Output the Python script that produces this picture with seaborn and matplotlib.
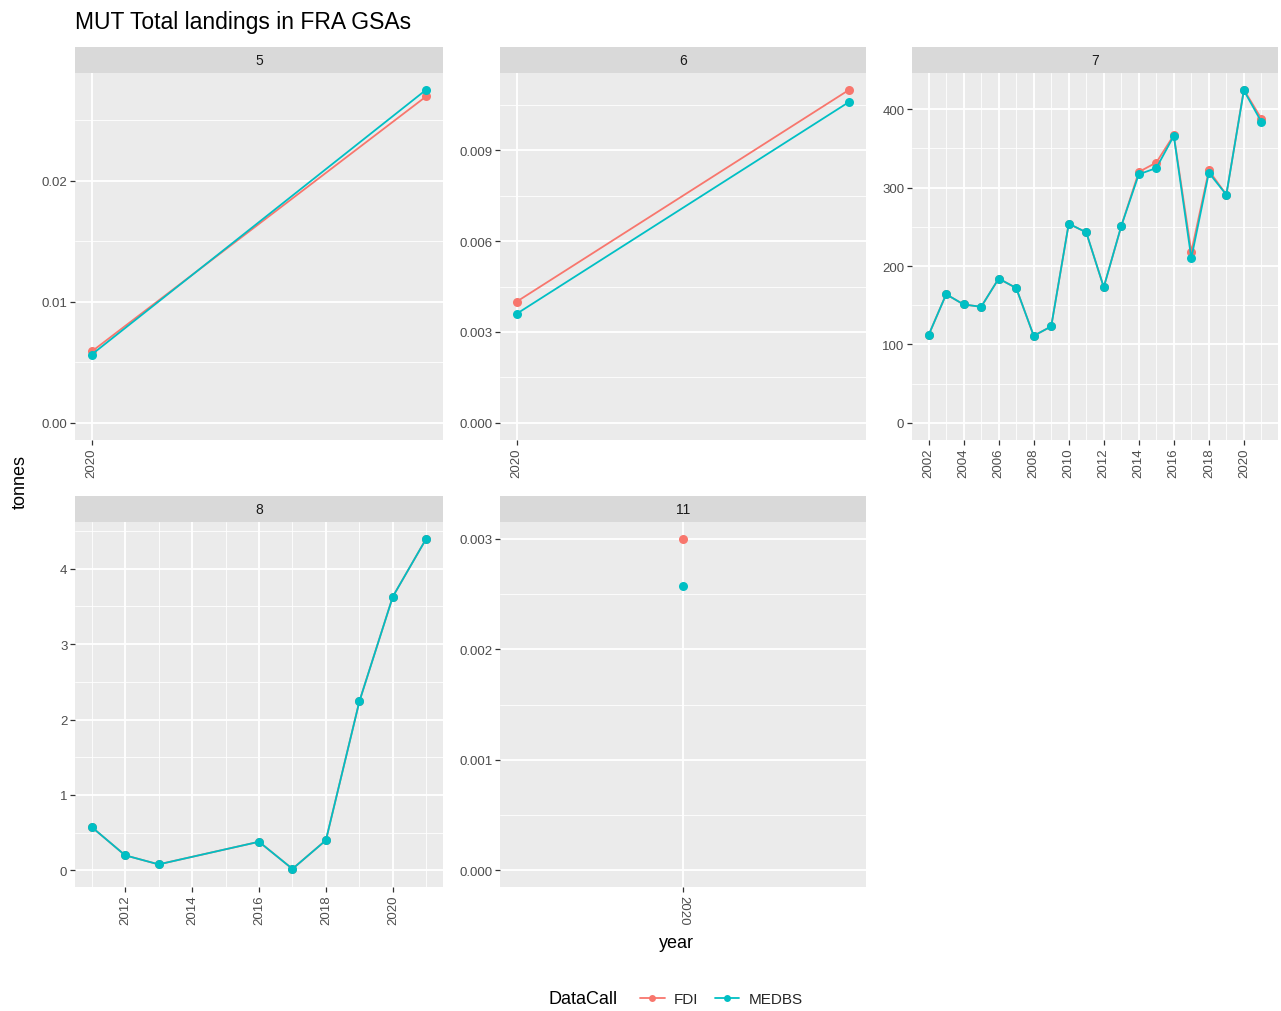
import matplotlib
matplotlib.use("Agg")
import matplotlib.pyplot as plt
from matplotlib.lines import Line2D
from matplotlib.ticker import FixedLocator, FixedFormatter
import numpy as np
import pandas as pd
import seaborn as sns

# ---- data (tonnes of MUT landed, by GSA and data call) ----
years_5 = [2020, 2021]
fdi_5 = [0.0059, 0.0270]
medbs_5 = [0.00565, 0.02755]

years_6 = [2020, 2021]
fdi_6 = [0.0040, 0.0110]
medbs_6 = [0.0036, 0.0106]

years_7 = list(range(2002, 2022))
fdi_7 = [112, 164, 151, 148, 184, 172, 111, 123, 254, 243,
         173, 251, 320, 332, 367, 218, 322, 291, 425, 388]
medbs_7 = [112, 164, 151, 148, 184, 172, 111, 123, 254, 243,
           173, 251, 317, 325, 366, 210, 319, 291, 424, 384]

years_8 = [2011, 2012, 2013, 2016, 2017, 2018, 2019, 2020, 2021]
fdi_8 = [0.575, 0.20, 0.08, 0.38, 0.02, 0.40, 2.24, 3.63, 4.40]
medbs_8 = [0.575, 0.20, 0.08, 0.38, 0.02, 0.40, 2.24, 3.63, 4.40]

years_11 = [2020]
fdi_11 = [0.0030]
medbs_11 = [0.00257]

gsa_labels = ["5", "6", "7", "8", "11"]
datacalls = ["FDI", "MEDBS"]
palette = {"FDI": "#F8766D", "MEDBS": "#00BFC4"}

series = {
    "5": (years_5, fdi_5, medbs_5),
    "6": (years_6, fdi_6, medbs_6),
    "7": (years_7, fdi_7, medbs_7),
    "8": (years_8, fdi_8, medbs_8),
    "11": (years_11, fdi_11, medbs_11),
}

frames = []
for gsa, (yrs, fdi, medbs) in series.items():
    frames.append(pd.DataFrame({"GSA": gsa, "year": yrs, "tonnes": fdi, "DataCall": "FDI"}))
    frames.append(pd.DataFrame({"GSA": gsa, "year": yrs, "tonnes": medbs, "DataCall": "MEDBS"}))
df = pd.concat(frames, ignore_index=True)

# axis breaks per facet
y_breaks = {
    "5": ([0, 0.01, 0.02], ["0.00", "0.01", "0.02"]),
    "6": ([0, 0.003, 0.006, 0.009], ["0.000", "0.003", "0.006", "0.009"]),
    "7": ([0, 100, 200, 300, 400], ["0", "100", "200", "300", "400"]),
    "8": ([0, 1, 2, 3, 4], ["0", "1", "2", "3", "4"]),
    "11": ([0, 0.001, 0.002, 0.003], ["0.000", "0.001", "0.002", "0.003"]),
}
x_breaks = {
    "5": [2020],
    "6": [2020],
    "7": list(range(2002, 2021, 2)),
    "8": list(range(2012, 2021, 2)),
    "11": [2020],
}
x_minor = {
    "5": [], "6": [], "11": [],
    "7": list(range(2003, 2022, 2)),
    "8": list(range(2011, 2022, 2)),
}

# ---- styling ----
sns.set_theme(style="darkgrid")
plt.rcParams["font.family"] = ["Liberation Sans", "DejaVu Sans"]

W, H = 1281, 1012
fig = plt.figure(figsize=(W / 100, H / 100), dpi=100)
fig.patch.set_facecolor("white")

cols = [(75, 443), (500, 866), (912, 1278)]
rows = [(74, 440.5), (523, 888)]
strip_h = 26
placement = {"5": (0, 0), "6": (0, 1), "7": (0, 2), "8": (1, 0), "11": (1, 1)}


def frac_box(x0, x1, y0, y1):
    return [x0 / W, 1 - y1 / H, (x1 - x0) / W, (y1 - y0) / H]


for gsa in gsa_labels:
    r, c = placement[gsa]
    x0, x1 = cols[c]
    y0, y1 = rows[r]
    ax = fig.add_axes(frac_box(x0, x1, y0, y1))
    sax = fig.add_axes(frac_box(x0, x1, y0 - strip_h, y0))
    sax.set_facecolor("#D9D9D9")
    sax.set_xticks([])
    sax.set_yticks([])
    for sp in sax.spines.values():
        sp.set_visible(False)
    sax.text(0.5, 0.5, gsa, ha="center", va="center", fontsize=10, color="#1A1A1A",
             transform=sax.transAxes)

    sub = df[df["GSA"] == gsa]
    for dc in datacalls:
        part = sub[sub["DataCall"] == dc]
        sns.lineplot(data=part, x="year", y="tonnes", color=palette[dc], marker="o",
                     markersize=6.5, markeredgewidth=0, linewidth=1.3,
                     estimator=None, legend=False, ax=ax)

    ax.set_facecolor("#EBEBEB")
    for sp in ax.spines.values():
        sp.set_visible(False)

    # limits with 5% padding, always including zero
    yrs = sub["year"].to_numpy()
    xmin, xmax = yrs.min(), yrs.max()
    if xmax > xmin:
        pad = 0.05 * (xmax - xmin)
        ax.set_xlim(xmin - pad, xmax + pad)
    else:
        ax.set_xlim(xmin - 0.55, xmin + 0.55)
    ymax = sub["tonnes"].max()
    ax.set_ylim(-0.05 * ymax, ymax * 1.05)

    yb, yl = y_breaks[gsa]
    ax.yaxis.set_major_locator(FixedLocator(yb))
    ax.yaxis.set_major_formatter(FixedFormatter(yl))
    step = yb[1] - yb[0]
    ymin_minor = [v + step / 2 for v in [yb[0] - step] + yb]
    ax.yaxis.set_minor_locator(FixedLocator([v for v in ymin_minor if -0.05 * ymax < v < 1.05 * ymax]))

    ax.xaxis.set_major_locator(FixedLocator(x_breaks[gsa]))
    ax.xaxis.set_major_formatter(FixedFormatter([str(v) for v in x_breaks[gsa]]))
    ax.xaxis.set_minor_locator(FixedLocator(x_minor[gsa]))

    ax.grid(which="major", color="white", linewidth=1.3)
    ax.grid(which="minor", color="white", linewidth=0.6)
    ax.tick_params(which="major", length=3.5, width=0.9, color="#333333",
                   labelsize=9.5, labelcolor="#4D4D4D", pad=2, bottom=True, left=True)
    ax.tick_params(which="minor", length=0)
    rot = 270 if gsa == "11" else 90
    for lab in ax.get_xticklabels():
        lab.set_rotation(rot)
        lab.set_va("top")
        lab.set_ha("center")
    ax.set_xlabel("")
    ax.set_ylabel("")
    ax.set_axisbelow(True)

# titles and axis labels
fig.text(75 / W, 1 - 23 / H, "MUT Total landings in FRA GSAs", fontsize=16.5,
         color="black", ha="left", va="center")
fig.text(20 / W, 1 - 482 / H, "tonnes", rotation=90, fontsize=13, ha="center",
         va="center", color="black")
fig.text(676 / W, 1 - 944 / H, "year", fontsize=13, ha="center", va="center", color="black")

# legend along the bottom
fig.text(548 / W, 1 - 1000 / H, "DataCall", fontsize=13, ha="left", va="center", color="black")
handles = [Line2D([0], [0], color=palette[dc], marker="o", markersize=5, linewidth=1.3,
                  markeredgewidth=0) for dc in datacalls]
fig.legend(handles, datacalls, ncol=2, loc="center left",
           bbox_to_anchor=(634 / W, 1 - 1000 / H), frameon=False, fontsize=11,
           handlelength=1.6, handletextpad=0.6, columnspacing=1.1, borderaxespad=0)

fig.savefig("out.png", dpi=100, facecolor="white")
